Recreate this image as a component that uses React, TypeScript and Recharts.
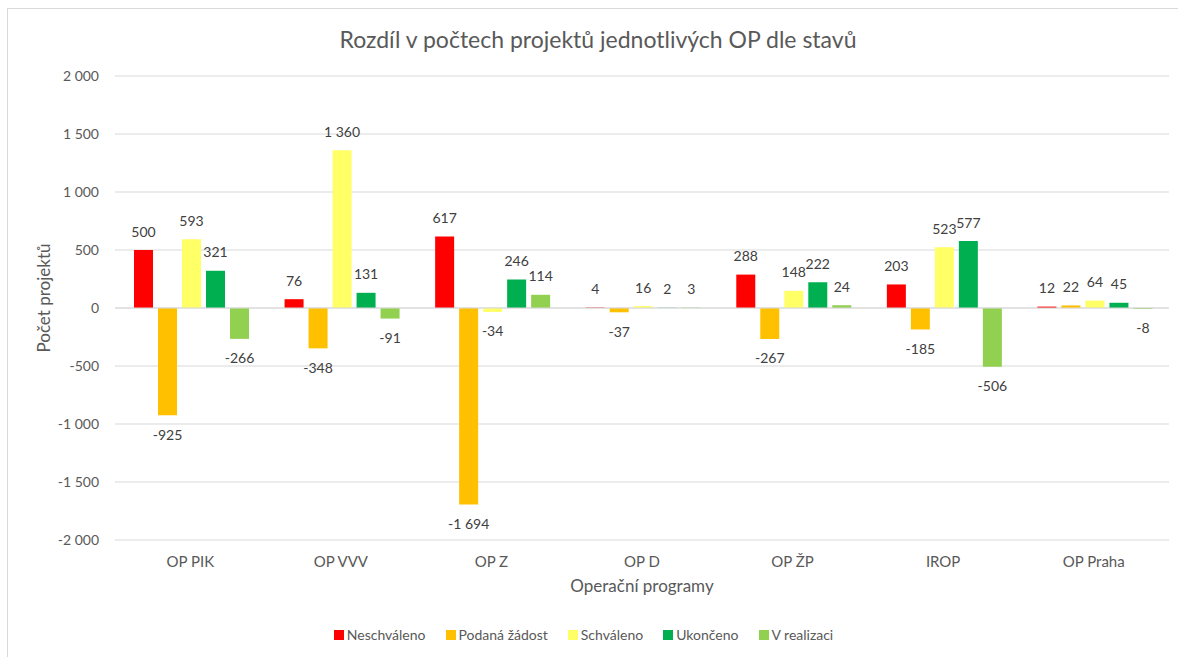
import {
  BarChart,
  Bar,
  XAxis,
  YAxis,
  CartesianGrid,
  Legend,
  LabelList,
  ReferenceLine,
} from 'recharts';

const programs = ['OP PIK', 'OP VVV', 'OP Z', 'OP D', 'OP ŽP', 'IROP', 'OP Praha'];
const neschvaleno = [500, 76, 617, 4, 288, 203, 12];
const podanaZadost = [-925, -348, -1694, -37, -267, -185, 22];
const schvaleno = [593, 1360, -34, 16, 148, 523, 64];
const ukonceno = [321, 131, 246, 2, 222, 577, 45];
const vRealizaci = [-266, -91, 114, 3, 24, -506, -8];
const yTicks = [-2000, -1500, -1000, -500, 0, 500, 1000, 1500, 2000];

const series = [
  { key: 'neschvaleno', name: 'Neschváleno', color: '#FF0000' },
  { key: 'podana', name: 'Podaná žádost', color: '#FFC000' },
  { key: 'schvaleno', name: 'Schváleno', color: '#FFFF66' },
  { key: 'ukonceno', name: 'Ukončeno', color: '#00B050' },
  { key: 'realizace', name: 'V realizaci', color: '#92D050' },
];

const data = programs.map((p, i) => ({
  program: p,
  neschvaleno: neschvaleno[i],
  podana: podanaZadost[i],
  schvaleno: schvaleno[i],
  ukonceno: ukonceno[i],
  realizace: vRealizaci[i],
}));

const font = 'Lato, "Open Sans", sans-serif';
// non-breaking space so Recharts does not wrap "1 360"
const fmt = (v: number | string) => String(v).replace(/\B(?=(\d{3})+(?!\d))/g, '\u00A0');

function ValueLabel(props: any) {
  const { x, y, width, height, value } = props;
  const top = Math.min(y, y + height);
  const bottom = Math.max(y, y + height);
  const cy = value >= 0 ? top - 19 : bottom + 19;
  return (
    <text x={x + width / 2} y={cy} textAnchor="middle" dominantBaseline="central" fill="#404040" fontSize={14} fontFamily={font}>
      {fmt(value)}
    </text>
  );
}

function YTitle(props: any) {
  const { viewBox } = props;
  const cx = 43;
  const cy = viewBox.y + viewBox.height / 2 - 10;
  return (
    <text x={cx} y={cy} transform={`rotate(-90, ${cx}, ${cy})`} textAnchor="middle" dominantBaseline="central" fill="#595959" fontSize={17} fontFamily={font}>
      Počet projektů
    </text>
  );
}

function LegendContent() {
  return (
    <div style={{ display: 'flex', justifyContent: 'center', gap: 20, fontSize: 14, color: '#595959', fontFamily: font, marginLeft: -57 }}>
      {series.map((s) => (
        <span key={s.key} style={{ display: 'inline-flex', alignItems: 'center' }}>
          <span style={{ width: 10, height: 10, background: s.color, display: 'inline-block', marginRight: 3 }} />
          {s.name}
        </span>
      ))}
    </div>
  );
}

export default function App() {
  return (
    <div style={{ position: 'absolute', left: 0, top: 0, width: 1178, height: 657, background: '#fff', fontFamily: font, overflow: 'hidden' }}>
      <div style={{ position: 'absolute', left: 7, top: 8, width: 1300, height: 800, borderLeft: '1px solid #d9d9d9', borderTop: '1px solid #d9d9d9' }} />
      <div style={{ position: 'absolute', left: 0, width: 1196, top: 25, textAlign: 'center', fontSize: 23, color: '#595959' }}>
        Rozdíl v počtech projektů jednotlivých OP dle stavů
      </div>
      <BarChart
        width={1178}
        height={657}
        data={data}
        margin={{ top: 76, right: 9, bottom: 14, left: 55 }}
        barCategoryGap={19}
        barGap={5}
      >
        <CartesianGrid vertical={false} stroke="#d9d9d9" />
        <ReferenceLine y={0} stroke="#d9d9d9" />
        <XAxis
          dataKey="program"
          axisLine={false}
          tickLine={false}
          tick={{ fill: '#595959', fontSize: 15, fontFamily: font }}
          tickMargin={10}
          label={{ value: 'Operační programy', position: 'insideBottom', offset: -14, fill: '#595959', fontSize: 17, fontFamily: font }}
          height={38}
        />
        <YAxis
          domain={[-2000, 2000]}
          ticks={yTicks}
          axisLine={false}
          tickLine={false}
          width={60}
          tickMargin={10}
          tickFormatter={fmt}
          tick={{ fill: '#595959', fontSize: 14, fontFamily: font }}
          label={<YTitle />}
        />
        <Legend verticalAlign="bottom" wrapperStyle={{ paddingTop: 48 }} content={<LegendContent />} />
        {series.map((s) => (
          <Bar key={s.key} dataKey={s.key} name={s.name} fill={s.color} isAnimationActive={false}>
            <LabelList dataKey={s.key} content={<ValueLabel />} />
          </Bar>
        ))}
      </BarChart>
    </div>
  );
}
